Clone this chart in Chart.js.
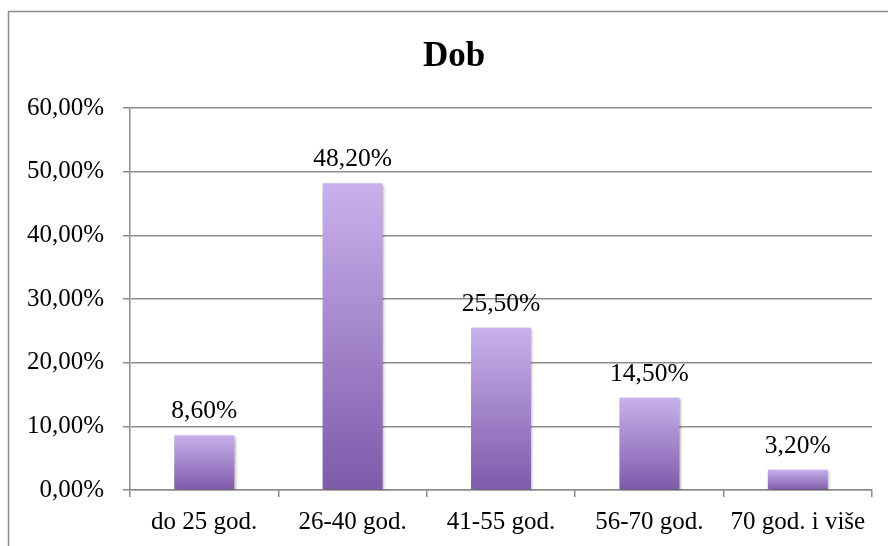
<!DOCTYPE html>
<html>
<head>
<meta charset="utf-8">
<script src="https://cdn.jsdelivr.net/npm/chart.js@4"></script>
<style>
html,body{margin:0;padding:0;background:#fff;}
#wrap{position:relative;width:888px;height:546px;}
</style>
</head>
<body>
<div id="wrap"><canvas id="c" width="888" height="546"></canvas></div>
<script>
const chartTitle = "Dob";
const categories = ["do 25 god.", "26-40 god.", "41-55 god.", "56-70 god.", "70 god. i više"];
const values = [8.6, 48.2, 25.5, 14.5, 3.2];
const yTicks = [0, 10, 20, 30, 40, 50, 60];

const FONT = "'Liberation Serif', 'Times New Roman', serif";
const GRID = "#8c8c8c";
const fmt = v => v.toFixed(2).replace('.', ',') + '%';

function barGradient(ctx) {
  const chart = ctx.chart;
  const y = chart.scales && chart.scales.y;
  if (!chart.chartArea || !y) return "#a58bd2";
  const v = ctx.raw;
  const top = y.getPixelForValue(v);
  const bot = y.getPixelForValue(0);
  if (!isFinite(top) || !isFinite(bot) || top === bot) return "#a58bd2";
  const g = chart.ctx.createLinearGradient(0, top, 0, bot);
  g.addColorStop(0, "#c9b1ec");
  g.addColorStop(1, "#7e5aaa");
  return g;
}

const framePlugin = {
  id: 'frame',
  beforeDraw(chart) {
    const c = chart.ctx;
    c.save();
    c.fillStyle = '#fff';
    c.fillRect(0, 0, chart.width, chart.height);
    c.strokeStyle = '#8c8c8c';
    c.lineWidth = 1.5;
    c.strokeRect(8.5, 11.5, chart.width + 20, chart.height + 20);
    c.fillStyle = '#000';
    c.font = "bold 35px " + FONT;
    c.textAlign = 'center';
    c.textBaseline = 'alphabetic';
    c.fillText(chartTitle, 454, 66);
    c.restore();
  },
  beforeDatasetsDraw(chart) {
    const c = chart.ctx;
    c.save();
    c.shadowColor = 'rgba(0,0,0,0.35)';
    c.shadowBlur = 3;
    c.shadowOffsetX = 1.5;
    c.shadowOffsetY = 1.5;
  },
  afterDatasetsDraw(chart) {
    const c = chart.ctx;
    c.restore();
    c.save();
    c.fillStyle = '#000';
    c.font = "25.5px " + FONT;
    c.textAlign = 'center';
    c.textBaseline = 'alphabetic';
    const meta = chart.getDatasetMeta(0);
    meta.data.forEach((el, i) => {
      c.fillText(fmt(values[i]), el.x, el.y - 17);
    });
    c.restore();
  }
};

new Chart(document.getElementById('c'), {
  type: 'bar',
  data: {
    labels: categories,
    datasets: [{
      data: values,
      backgroundColor: barGradient,
      borderWidth: 0,
      barPercentage: 0.404,
      categoryPercentage: 1.0
    }]
  },
  options: {
    responsive: false,
    animation: false,
    devicePixelRatio: 1,
    layout: { padding: { top: 108, right: 16, left: 0, bottom: 0 } },
    plugins: {
      legend: { display: false },
      title: { display: false },
      tooltip: { enabled: false }
    },
    scales: {
      x: {
        offset: true,
        grid: { display: true, drawOnChartArea: false, drawTicks: true, tickLength: 7, color: GRID, lineWidth: 1.5, offset: true },
        border: { display: true, color: GRID, width: 1.5 },
        ticks: { color: '#000', font: { family: FONT, size: 25 }, padding: 10, maxRotation: 0, autoSkip: false },
        afterFit(scale) { scale.height = 56; }
      },
      y: {
        min: 0, max: 60,
        afterBuildTicks(scale) { scale.ticks = yTicks.map(v => ({ value: v })); },
        grid: { color: GRID, lineWidth: 1.5, drawTicks: true, tickLength: 7 },
        border: { display: true, color: GRID, width: 1.5 },
        ticks: { color: '#000', font: { family: FONT, size: 25 }, padding: 19, callback: v => fmt(v) },
        afterFit(scale) { scale.width = 130; }
      }
    }
  },
  plugins: [framePlugin]
});
</script>
</body>
</html>
